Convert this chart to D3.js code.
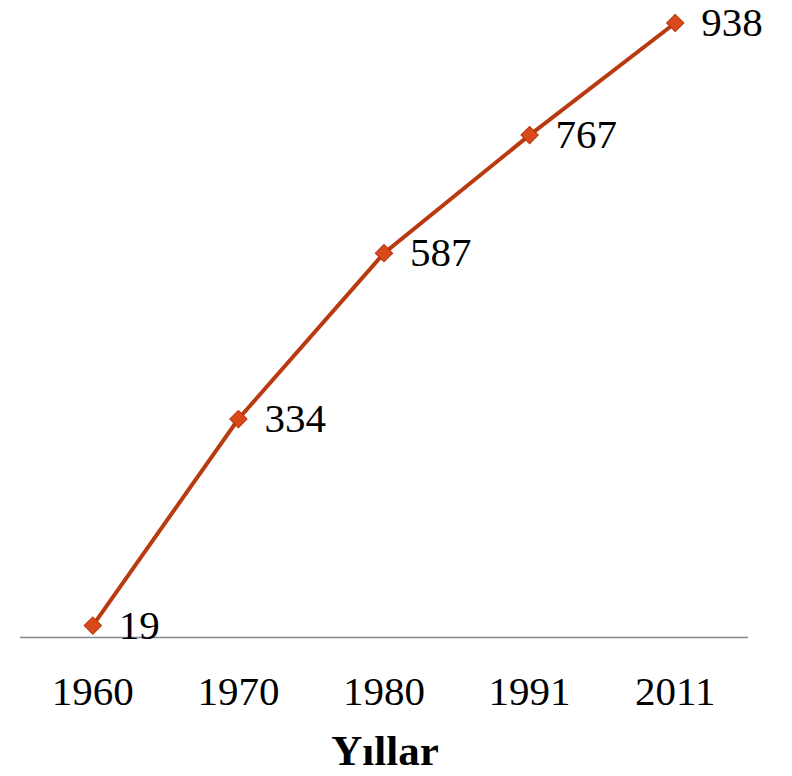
<!DOCTYPE html>
<html>
<head>
<meta charset="utf-8">
<script src="https://cdn.jsdelivr.net/npm/d3@7"></script>
<style>
  body { margin: 0; background: #fff; }
  text { font-family: "Liberation Serif", "DejaVu Serif", serif; }
</style>
</head>
<body>
<svg id="chart" width="792" height="776"></svg>
<script>
// veriler
var years = ["1960", "1970", "1980", "1991", "2011"];
var values = [19, 334, 587, 767, 938];
var axisTitle = "Yıllar";

var data = years.map(function(y, i) { return { year: y, value: values[i] }; });

var svg = d3.select("#chart");

// x ekseni: kategoriler
var x = d3.scaleBand()
    .domain(years)
    .range([20, 748]);

// y ekseni
var y = d3.scaleLinear()
    .domain([0, 938])
    .range([638, 23]);

var cx = function(d) { return x(d.year) + x.bandwidth() / 2; };

// eksen çizgisi
svg.append("line")
    .attr("x1", 20).attr("x2", 748)
    .attr("y1", 637.5).attr("y2", 637.5)
    .attr("stroke", "#888")
    .attr("stroke-width", 1.5);

// yıl etiketleri
svg.selectAll(".tick-label")
    .data(years)
  .enter().append("text")
    .attr("class", "tick-label")
    .attr("x", function(d) { return x(d) + x.bandwidth() / 2; })
    .attr("y", 705)
    .attr("text-anchor", "middle")
    .attr("font-size", 41)
    .text(function(d) { return d; });

// eksen başlığı
svg.append("text")
    .attr("x", 385)
    .attr("y", 765)
    .attr("text-anchor", "middle")
    .attr("font-size", 43)
    .attr("font-weight", "bold")
    .text(axisTitle);

// çizgi
var line = d3.line()
    .x(cx)
    .y(function(d) { return y(d.value); });

svg.append("path")
    .datum(data)
    .attr("d", line)
    .attr("fill", "none")
    .attr("stroke", "#BA3A10")
    .attr("stroke-width", 4);

// işaretçiler (eşkenar dörtgen)
svg.selectAll(".marker")
    .data(data)
  .enter().append("path")
    .attr("class", "marker")
    .attr("d", d3.symbol().type(d3.symbolSquare).size(150))
    .attr("transform", function(d) {
        return "translate(" + cx(d) + "," + y(d.value) + ") rotate(45)";
    })
    .attr("fill", "#D9491C")
    .attr("stroke", "#B5360E")
    .attr("stroke-width", 1);

// değer etiketleri
svg.selectAll(".value-label")
    .data(data)
  .enter().append("text")
    .attr("class", "value-label")
    .attr("x", function(d) { return cx(d) + 26; })
    .attr("y", function(d) { return y(d.value) + 13; })
    .attr("font-size", 41)
    .text(function(d) { return d.value; });
</script>
</body>
</html>
